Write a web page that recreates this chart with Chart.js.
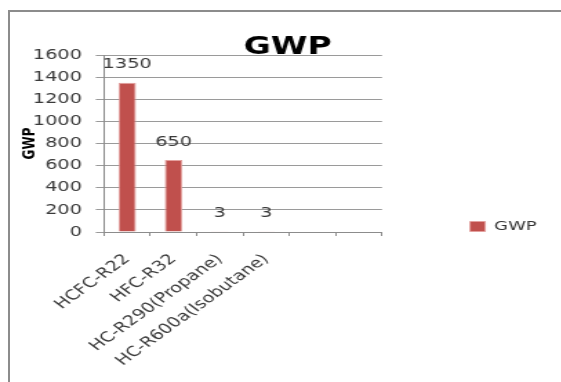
<!DOCTYPE html>
<html>
<head>
<meta charset="utf-8">
<script src="https://cdn.jsdelivr.net/npm/chart.js@4/dist/chart.umd.min.js"></script>
<style>
  html, body { margin: 0; padding: 0; background: #ffffff; overflow: hidden; }
  body { width: 561px; height: 382px; position: relative; }
  #frame {
    position: absolute; left: 8px; top: 10px; width: 600px; height: 420px;
    border-left: 2px solid #8c8c8c; border-top: 2px solid #8c8c8c;
  }
  #stage {
    position: absolute; left: 0; top: 0; width: 407px; height: 382px;
    transform: scaleX(1.38); transform-origin: 0 0;
  }
  #chart { display: block; }
</style>
</head>
<body>
<div id="frame"></div>
<div id="stage"><canvas id="chart" width="407" height="382"></canvas></div>
<script>
// Refrigerants and their global warming potential
const categories = ['HCFC-R22', 'HFC-R32', 'HC-R290(Propane)', 'HC-R600a(Isobutane)', '', ''];
const gwpValues = [1350, 650, 3, 3, null, null];
const seriesName = 'GWP';
const yTicks = { min: 0, max: 1600, step: 200 };

const FONT = '"DejaVu Sans", Verdana, sans-serif';

// value printed above each bar
const valueLabels = {
  id: 'valueLabels',
  afterDatasetsDraw(chart) {
    const ctx = chart.ctx;
    const meta = chart.getDatasetMeta(0);
    const data = chart.data.datasets[0].data;
    ctx.save();
    ctx.font = '14px ' + FONT;
    ctx.fillStyle = '#3a3a3a';
    ctx.textAlign = 'center';
    ctx.textBaseline = 'middle';
    meta.data.forEach((bar, i) => {
      const v = data[i];
      if (v === null || v === undefined) return;
      ctx.fillText(String(v), bar.x, bar.y - 18);
    });
    ctx.restore();
  }
};

// put the legend and title where the sheet layout has them
const placeBlocks = {
  id: 'placeBlocks',
  afterLayout(chart) {
    const lg = chart.legend;
    if (lg) {
      lg.left = 330.6; lg.width = 76; lg.right = lg.left + lg.width;
      lg.top = 210; lg.bottom = lg.top + 120; lg.height = 120;
    }
    const tb = chart.titleBlock;
    if (tb) { tb.left = 0; tb.right = 417; tb.width = 417; }
  }
};

new Chart(document.getElementById('chart'), {
  type: 'bar',
  data: {
    labels: categories,
    datasets: [{
      label: seriesName,
      data: gwpValues,
      backgroundColor: '#C0504D',
      borderColor: '#E3A09E',
      borderWidth: 1,
      categoryPercentage: 1,
      barPercentage: 0.38
    }]
  },
  options: {
    responsive: false,
    animation: false,
    devicePixelRatio: 1,
    layout: { padding: { left: 0, right: 90.2, top: 0, bottom: 0 } },
    plugins: {
      title: {
        display: true,
        text: 'GWP',
        color: '#000000',
        font: { family: FONT, size: 24, weight: 'bold', lineHeight: 0.6 },
        padding: { top: 40.6, bottom: 0 }
      },
      legend: {
        display: true,
        position: 'right',
        align: 'start',
        maxWidth: 40,
        labels: {
          boxWidth: 11,
          boxHeight: 10,
          padding: 10,
          color: '#333333',
          font: { family: FONT, size: 13 }
        }
      },
      tooltip: { enabled: false }
    },
    scales: {
      x: {
        afterFit(scale) { scale.height = 150; },
        grid: {
          display: true, drawOnChartArea: false, drawTicks: true,
          tickLength: 4, color: '#8c8c8c'
        },
        border: { display: true, color: '#8c8c8c' },
        ticks: {
          autoSkip: false, minRotation: 45, maxRotation: 45, padding: 15,
          color: '#3a3a3a', font: { family: FONT, size: 14 }
        }
      },
      y: {
        min: yTicks.min,
        max: yTicks.max,
        afterFit(scale) { scale.width = 75.4; },
        grid: { color: '#9a9a9a', tickLength: 6 },
        border: { display: true, color: '#8c8c8c' },
        ticks: {
          stepSize: yTicks.step, padding: 10,
          color: '#3a3a3a', font: { family: FONT, size: 14 },
          callback: (v) => String(v)
        },
        title: {
          display: true, text: 'GWP', color: '#000000',
          font: { family: FONT, size: 12, weight: 'bold' },
          padding: { top: 14.2, bottom: 0 }
        }
      }
    }
  },
  plugins: [valueLabels, placeBlocks]
});
</script>
</body>
</html>
